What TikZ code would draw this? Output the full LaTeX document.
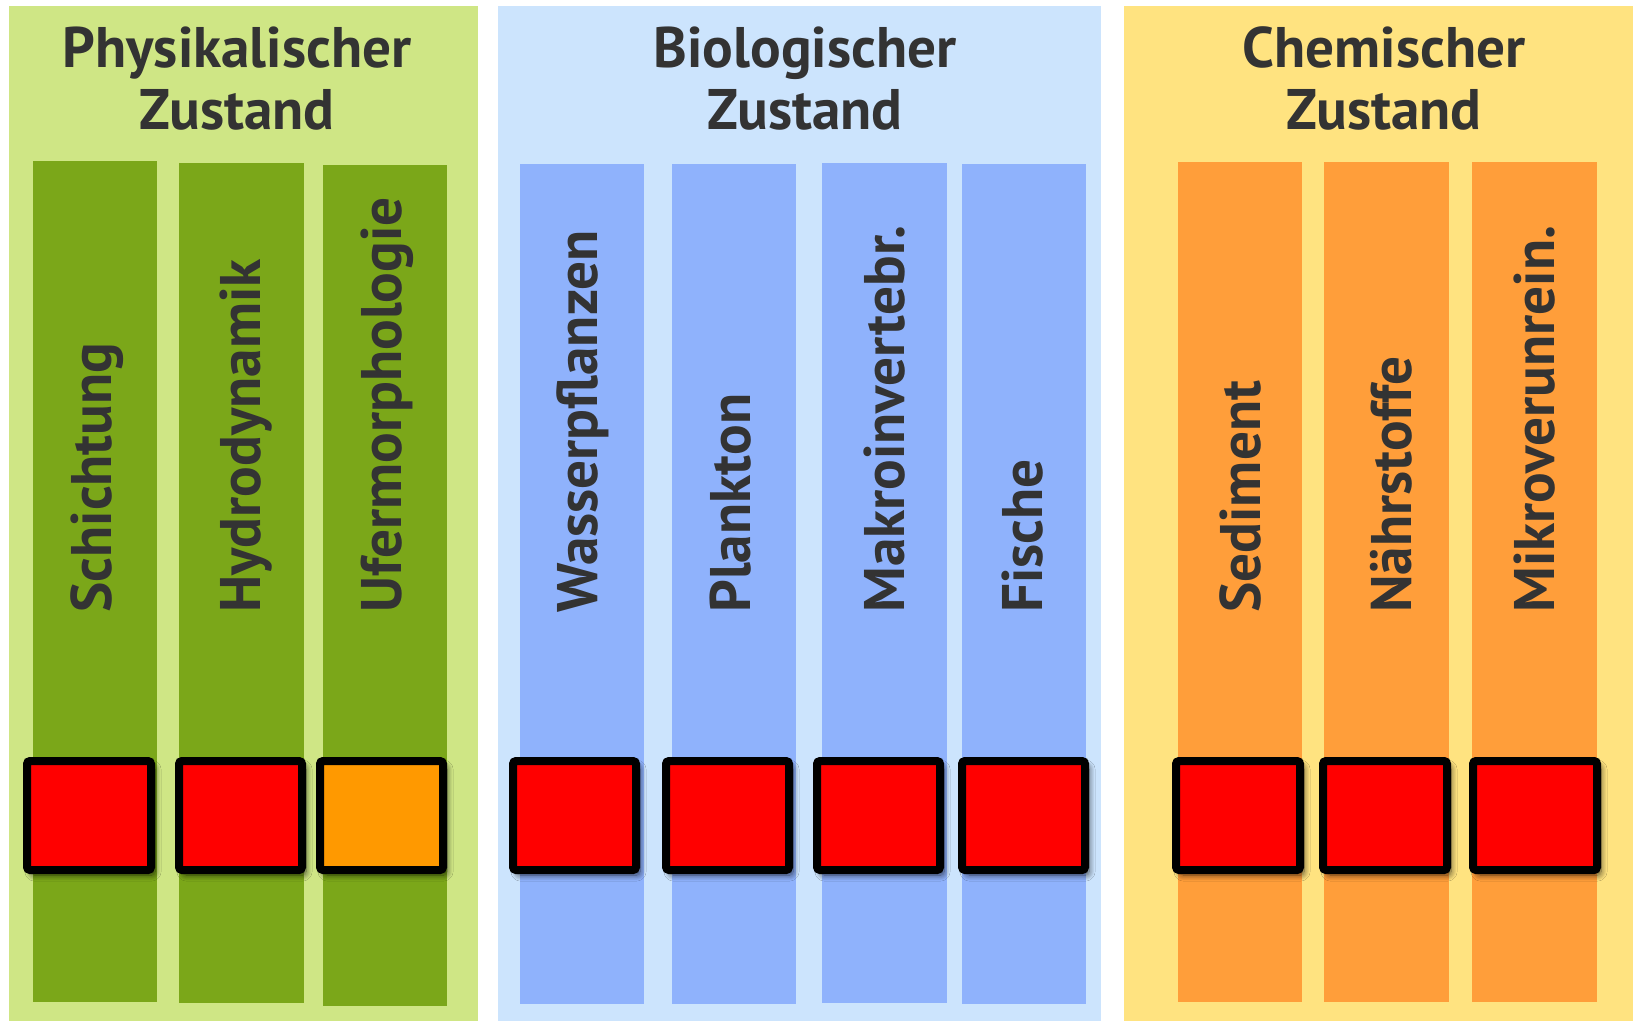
\documentclass[tikz,border=0pt]{standalone}
\usepackage{fontspec}
\setmainfont{PT Sans}
\usetikzlibrary{shadows.blur}
\definecolor{txt}{RGB}{51,51,51}
\definecolor{gpanel}{RGB}{207,230,133}
\definecolor{gbar}{RGB}{123,167,25}
\definecolor{bpanel}{RGB}{204,228,253}
\definecolor{bbar}{RGB}{143,178,252}
\definecolor{ypanel}{RGB}{255,227,128}
\definecolor{obar}{RGB}{255,158,58}
\definecolor{sqred}{RGB}{255,0,0}
\definecolor{sqorange}{RGB}{255,153,0}
\tikzset{
  title/.style={text=txt, font=\bfseries\fontsize{28.6}{31.5}\selectfont, align=center, anchor=base, inner sep=0pt},
  label/.style={text=txt, font=\bfseries\fontsize{28.6}{31.5}\selectfont, rotate=90, anchor=base west, inner sep=0pt},
  sq/.style={draw=black, line width=4pt, rounded corners=1.5pt,
    blur shadow={shadow xshift=2pt, shadow yshift=-2.5pt, shadow blur radius=3pt, shadow blur steps=10, shadow opacity=65}}
}
\begin{document}
\begin{tikzpicture}[x=0.5pt, y=-0.5pt]
\useasboundingbox (0,0) rectangle (1633,1022);
\fill[white] (0,0) rectangle (1633,1022);
% panels
\fill[gpanel] (9,6) rectangle (478,1021);
\fill[bpanel] (498,6) rectangle (1101,1021);
\fill[ypanel] (1124,6) rectangle (1633,1021);
% bars
\fill[gbar] (33,161) rectangle (157,1002);
\fill[gbar] (179,163) rectangle (304,1003);
\fill[gbar] (323,165) rectangle (447,1006);
\fill[bbar] (520,164) rectangle (644,1004);
\fill[bbar] (672,164) rectangle (796,1004);
\fill[bbar] (822,163) rectangle (947,1003);
\fill[bbar] (962,164) rectangle (1086,1004);
\fill[obar] (1178,162) rectangle (1302,1002);
\fill[obar] (1324,162) rectangle (1449,1002);
\fill[obar] (1472,162) rectangle (1597,1002);
% titles (anchor base = baseline of last line)
\node[title] (tphys) at (237,130) {Physikalischer\\Zustand};
\node[title] (tbio) at (805,130) {Biologischer\\Zustand};
\node[title] (tchem) at (1384,130) {Chemischer\\Zustand};
% labels
\node[label] (l1) at (111.7,613) {Schichtung};
\node[label] (l2) at (260,613) {Hydrodynamik};
\node[label] (l3) at (401.7,613) {Ufermorphologie};
\node[label] (l4) at (597.3,613) {Wasserpflanzen};
\node[label] (l5) at (750.7,613) {Plankton};
\node[label] (l6) at (904.3,613) {Makroinvertebr.};
\node[label] (l7) at (1042.3,613) {Fische};
\node[label] (l8) at (1260.7,613) {Sediment};
\node[label] (l9) at (1411.7,613) {Nährstoffe};
\node[label] (l10) at (1554,613) {Mikroverunrein.};
% squares
\draw[sq, fill=sqred] (27,761) rectangle (151,870);
\draw[sq, fill=sqred] (179,761) rectangle (302,870);
\draw[sq, fill=sqorange] (320,761) rectangle (443,870);
\draw[sq, fill=sqred] (513,761) rectangle (636,870);
\draw[sq, fill=sqred] (666,761) rectangle (789,870);
\draw[sq, fill=sqred] (817,761) rectangle (940,870);
\draw[sq, fill=sqred] (962,761) rectangle (1085,870);
\draw[sq, fill=sqred] (1176,761) rectangle (1300,870);
\draw[sq, fill=sqred] (1323,761) rectangle (1447,870);
\draw[sq, fill=sqred] (1473,761) rectangle (1597,870);
\end{tikzpicture}
\end{document}
